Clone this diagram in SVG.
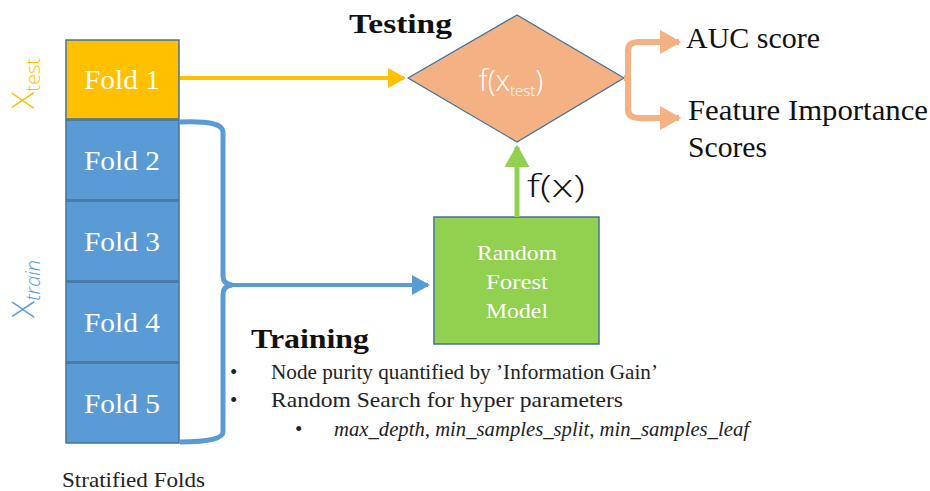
<svg xmlns="http://www.w3.org/2000/svg" width="930" height="491" viewBox="0 0 930 491">
<style>
.serif{font-family:"Liberation Serif","DejaVu Serif",serif;}
.hand{font-family:"Open Sans","DejaVu Sans",sans-serif;font-weight:300;}
.fold{fill:#5B9BD5;stroke:#41719C;stroke-width:1.5;}
.foldtxt{font-family:"Liberation Serif",serif;font-size:28px;fill:#ffffff;text-anchor:middle;}
.body{font-family:"Liberation Serif",serif;font-size:21px;fill:#222;}
</style>
<defs>
<marker id="ay" markerWidth="5" markerHeight="5" refX="4" refY="2.5" orient="auto" markerUnits="strokeWidth"><path d="M0,0 L4.5,2.5 L0,5 z" fill="#FFC000"/></marker>
<marker id="ab" markerWidth="5" markerHeight="5" refX="4" refY="2.5" orient="auto" markerUnits="strokeWidth"><path d="M0,0 L4.5,2.5 L0,5 z" fill="#5B9BD5"/></marker>
<marker id="ag" markerWidth="5" markerHeight="5" refX="4" refY="2.5" orient="auto" markerUnits="strokeWidth"><path d="M0,0 L4.5,2.5 L0,5 z" fill="#92D050"/></marker>
<marker id="as" markerWidth="4" markerHeight="4" refX="3.2" refY="2" orient="auto" markerUnits="strokeWidth"><path d="M0,0 L3.6,2 L0,4 z" fill="#F4B183"/></marker>
</defs>

<g id="labels-x">
<text class="hand" transform="translate(34,109) rotate(-90)" font-size="32" fill="#FFC000">X<tspan font-size="20" dy="6">test</tspan></text>
<text class="hand" transform="translate(34,318) rotate(-90)" font-size="32" fill="#5B9BD5">X<tspan font-size="20" dy="6" font-style="italic">train</tspan></text>
</g>

<g id="fold1"><rect x="66" y="40" width="113" height="79" fill="#FFC000" stroke="#41719C" stroke-width="1.5"/><text class="foldtxt" x="122" y="89" textLength="76" lengthAdjust="spacingAndGlyphs">Fold 1</text></g>
<g id="fold2"><rect class="fold" x="66" y="120" width="113" height="80"/><text class="foldtxt" x="122" y="170" textLength="76" lengthAdjust="spacingAndGlyphs">Fold 2</text></g>
<g id="fold3"><rect class="fold" x="66" y="201" width="113" height="80"/><text class="foldtxt" x="122" y="251" textLength="76" lengthAdjust="spacingAndGlyphs">Fold 3</text></g>
<g id="fold4"><rect class="fold" x="66" y="282" width="113" height="80"/><text class="foldtxt" x="122" y="332" textLength="76" lengthAdjust="spacingAndGlyphs">Fold 4</text></g>
<g id="fold5"><rect class="fold" x="66" y="363" width="113" height="80"/><text class="foldtxt" x="122" y="413" textLength="76" lengthAdjust="spacingAndGlyphs">Fold 5</text></g>
<g id="stratified"><text class="serif" x="62" y="487" font-size="21" fill="#222" textLength="143" lengthAdjust="spacingAndGlyphs">Stratified Folds</text></g>

<g id="testing-node">
<text class="serif" x="349" y="33" font-size="28" font-weight="bold" fill="#111" textLength="103" lengthAdjust="spacingAndGlyphs">Testing</text>
<polygon points="408,78 517,15 624,78 517,142" fill="#F4B183" stroke="#41719C" stroke-width="1.2"/>
<text class="hand" x="479" y="91" font-size="29" fill="#ffffff">f(x<tspan font-size="15" dy="5">test</tspan><tspan dy="-5">)</tspan></text>
</g>

<g id="rf-node">
<rect x="434" y="217" width="165" height="127" fill="#92D050" stroke="#41719C" stroke-width="1.5"/>
<text class="serif" x="517" y="260" font-size="22" fill="#ffffff" text-anchor="middle" textLength="80" lengthAdjust="spacingAndGlyphs">Random</text>
<text class="serif" x="517" y="289" font-size="22" fill="#ffffff" text-anchor="middle" textLength="62" lengthAdjust="spacingAndGlyphs">Forest</text>
<text class="serif" x="517" y="318" font-size="22" fill="#ffffff" text-anchor="middle" textLength="62" lengthAdjust="spacingAndGlyphs">Model</text>
</g>

<g id="outputs">
<text class="serif" x="686" y="48" font-size="30" fill="#111" textLength="134" lengthAdjust="spacingAndGlyphs">AUC score</text>
<text class="serif" x="688" y="120" font-size="30" fill="#111" textLength="240" lengthAdjust="spacingAndGlyphs">Feature Importance</text>
<text class="serif" x="688" y="157" font-size="30" fill="#111" textLength="79" lengthAdjust="spacingAndGlyphs">Scores</text>
</g>

<g id="training">
<text class="serif" x="251" y="348" font-size="28" font-weight="bold" fill="#111" textLength="118" lengthAdjust="spacingAndGlyphs">Training</text>
<text class="body" x="230" y="379">•</text>
<text class="body" x="271" y="379" textLength="387" lengthAdjust="spacingAndGlyphs">Node purity quantified by ’Information Gain’</text>
<text class="body" x="230" y="407">•</text>
<text class="body" x="271" y="407" textLength="352" lengthAdjust="spacingAndGlyphs">Random Search for hyper parameters</text>
<text class="body" x="295" y="436" font-size="18">•</text>
<text class="body" x="334" y="436" font-size="19" font-style="italic" textLength="415" lengthAdjust="spacingAndGlyphs">max_depth, min_samples_split, min_samples_leaf</text>
</g>

<g id="connectors" fill="none">
<path d="M180,78 L404,78" stroke="#FFC000" stroke-width="4" marker-end="url(#ay)"/>
<path d="M180,122 Q223,120 223,132 L223,276 Q223,284 232,285 Q223,286 223,294 L223,432 Q223,442 180,442" stroke="#5B9BD5" stroke-width="5"/>
<path d="M232,285 L428,285" stroke="#5B9BD5" stroke-width="4" marker-end="url(#ab)"/>
<path d="M517,217 L517,147" stroke="#92D050" stroke-width="5" marker-end="url(#ag)"/>
<path d="M624,78 L628,78 L628,50 Q628,42 640,42 L679,42" stroke="#F4B183" stroke-width="6" marker-end="url(#as)"/>
<path d="M628,78 L628,110 Q628,118 640,118 L679,118" stroke="#F4B183" stroke-width="6" marker-end="url(#as)"/>
</g>
<g id="fx-label"><text class="hand" x="527" y="197" font-size="32" fill="#111" textLength="58" lengthAdjust="spacingAndGlyphs">f(x)</text></g>
</svg>
